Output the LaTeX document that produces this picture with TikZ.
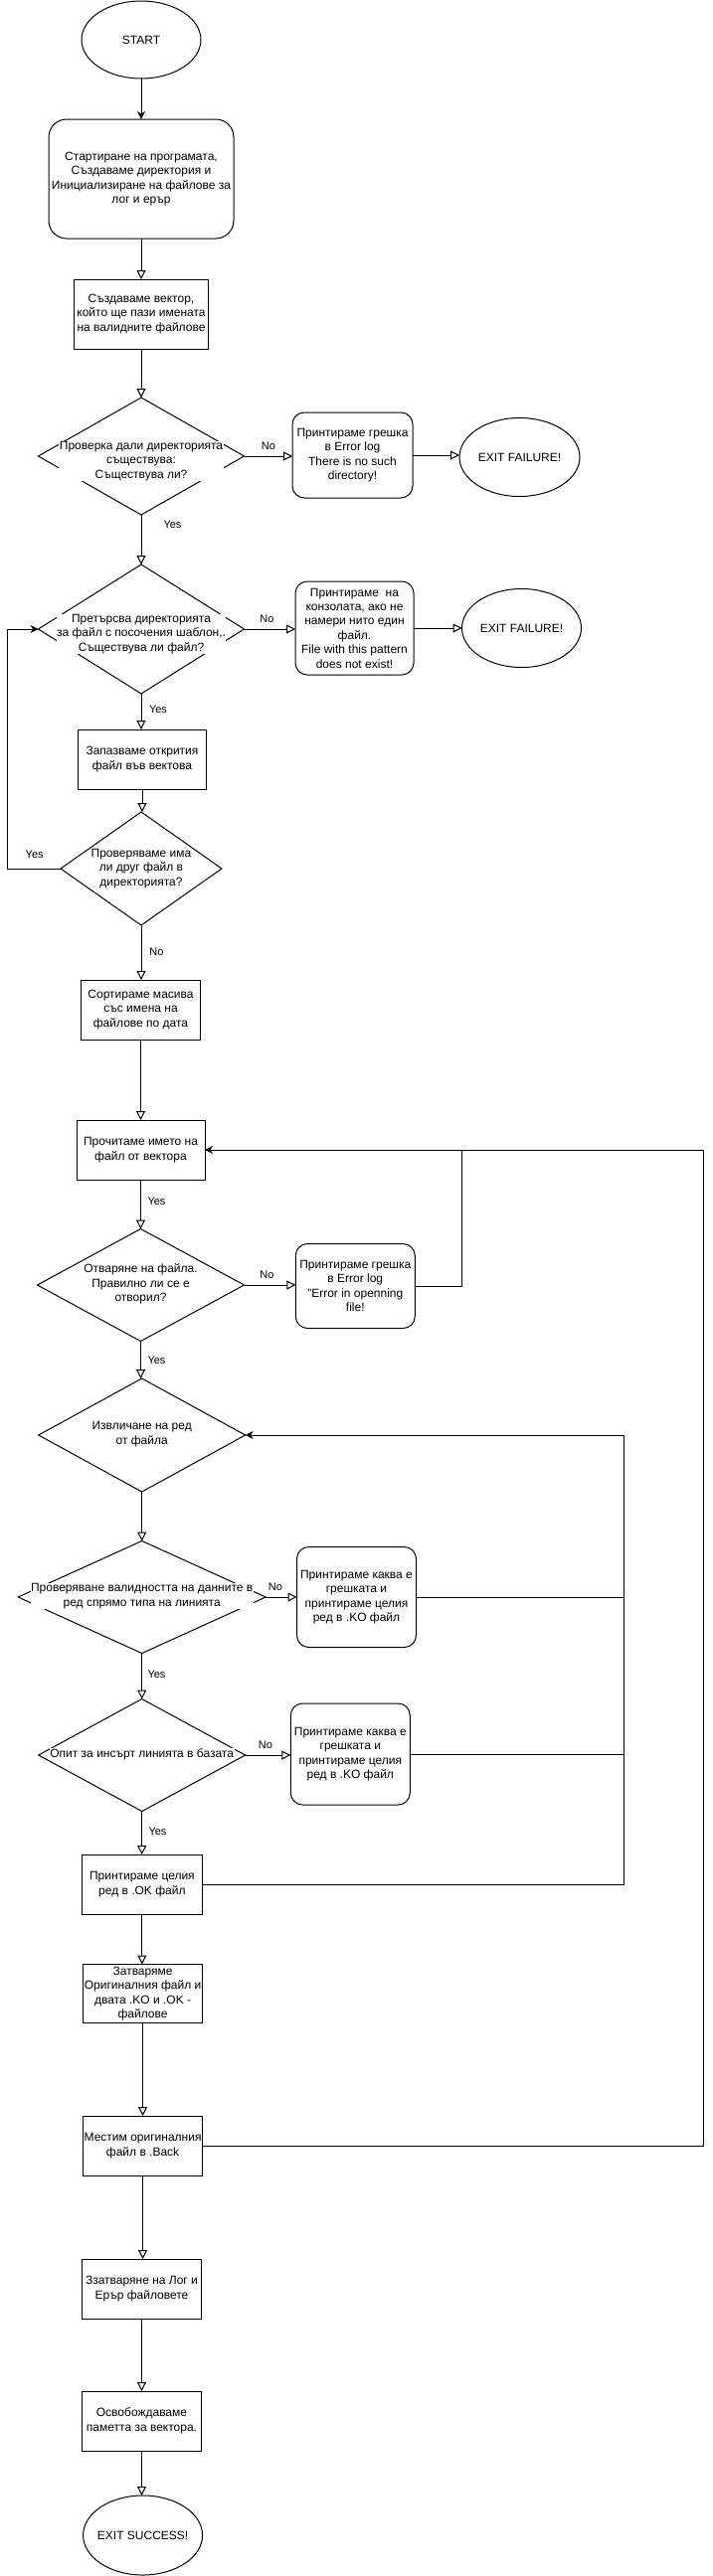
\documentclass[tikz,border=0pt]{standalone}
\usepackage{fontspec}
\setmainfont{Liberation Sans}
\usetikzlibrary{shapes.geometric, arrows.meta}
\newcommand\nfs{\fontsize{12pt}{14.4pt}\selectfont}
\newcommand\lfs{\fontsize{11pt}{13pt}\selectfont}
\tikzset{
  nodebase/.style={draw, line width=1pt, font=\nfs, align=center, inner sep=1pt, outer sep=0pt},
  boxn/.style={nodebase, rectangle},
  rbox/.style={nodebase, rectangle, rounded corners=12pt},
  ell/.style={nodebase, ellipse, inner sep=0pt},
  dia/.style={nodebase, diamond, inner sep=0pt},
  dtxt/.style={font=\nfs, align=center, fill=white, inner sep=0.5pt},
  etxt/.style={font=\nfs, align=center, inner sep=0pt},
  lbl/.style={font=\lfs, inner sep=0pt},
  oa/.style={line width=1pt, -{Triangle[open, length=9pt, width=9pt]}},
  fa/.style={line width=1pt, -{Stealth[length=8pt, width=8pt, inset=2.5pt]}},
  ln/.style={line width=1pt}
}
\begin{document}
\begin{tikzpicture}[x=1pt, y=-1pt]
\useasboundingbox (0,0) rectangle (716,2592);
% nodes
\node[ell, minimum width=120pt, minimum height=78pt] (start) at (142,40) {};
\node[etxt] (startt) at (start) {START};
\node[rbox, rounded corners=18pt, minimum width=186pt, minimum height=120pt] (b1) at (142,180)
  {Стартиране на програмата,\\Създаваме директория и\\Инициализиране на файлове за\\лог и ерър};
\node[boxn, minimum width=135pt, minimum height=70pt] (b2) at (142,316)
  {Създаваме вектор,\\който ще пази имената\\на валидните файлове};
\node[dia, minimum width=207pt, minimum height=118pt] (d1) at (142,459) {};
\node[dtxt] (d1t) at (142,464) {Проверка дали директорията\\съществува:\\Съществува ли?};
\node[rbox, minimum width=121pt, minimum height=86pt] (e1) at (354.5,458)
  {Принтираме грешка\\в Error log\\There is no such\\directory!};
\node[ell, minimum width=121pt, minimum height=79pt] (x1) at (522.5,460) {};
\node[etxt] (x1t) at (x1) {EXIT FAILURE!};
\node[dia, minimum width=207pt, minimum height=130pt] (d2) at (142,633) {};
\node[dtxt] (d2t) at (142,638) {Претърсва директорията\\за файл с посочения шаблон,.\\Съществува ли файл?};
\node[rbox, minimum width=119pt, minimum height=94pt] (e2) at (356.5,632)
  {Принтираме\ \ на\\конзолата, ако не\\намери нито един\\файл.\\File with this pattern\\does not exist!};
\node[ell, minimum width=120pt, minimum height=79pt] (x2) at (524.5,632) {};
\node[etxt] (x2t) at (x2) {EXIT FAILURE!};
\node[boxn, minimum width=129pt, minimum height=60pt] (b3) at (143,764)
  {Запазваме открития\\файл във вектова};
\node[dia, minimum width=162pt, minimum height=114pt] (d3) at (142,874) {};
\node[dtxt] (d3t) at (142,874) {Проверяваме има\\ли друг файл в\\директорията?};
\node[boxn, minimum width=120.5pt, minimum height=60pt] (b4) at (141.5,1016)
  {Сортираме масива\\със имена на\\файлове по дата};
\node[boxn, minimum width=129pt, minimum height=60pt] (b5) at (141.5,1157)
  {Прочитаме името на\\файл от вектора};
\node[dia, minimum width=208pt, minimum height=113pt] (d4) at (141.5,1293) {};
\node[dtxt] (d4t) at (141.5,1292) {Отваряне на файла.\\Правилно ли се е\\отворил?};
\node[rbox, minimum width=120pt, minimum height=85pt] (e3) at (357.3,1294)
  {Принтираме грешка\\в Error log\\"Error in openning\\file!};
\node[dia, minimum width=208pt, minimum height=114pt] (d5) at (142.7,1444) {};
\node[dtxt] (d5t) at (142.7,1443) {Извличане на ред\\от файла};
\node[dia, minimum width=249pt, minimum height=113pt] (d6) at (142.7,1607) {};
\node[dtxt] (d6t) at (142.7,1606) {Проверяване валидността на данните в\\ред спрямо типа на линията};
\node[rbox, minimum width=120pt, minimum height=101pt] (e4) at (358.5,1607)
  {Принтираме каква е\\грешката и\\принтираме целия\\ред в .KO файл};
\node[dia, minimum width=208pt, minimum height=113pt] (d7) at (142.7,1766) {};
\node[dtxt] (d7t) at (142.7,1765) {Опит за инсърт линията в базата};
\node[rbox, minimum width=120pt, minimum height=102pt] (e5) at (352.3,1765)
  {Принтираме каква е\\грешката и\\принтираме целия\\ред в .KO файл};
\node[boxn, minimum width=120.5pt, minimum height=60pt] (bok) at (142.9,1896)
  {Принтираме целия\\ред в .OK файл};
\node[boxn, minimum width=120pt, minimum height=59pt] (bcl) at (143.6,2006)
  {Затваряме\\Оригиналния файл и\\двата .KO и .OK -\\файлове};
\node[boxn, minimum width=120pt, minimum height=60pt] (bmv) at (143.6,2159)
  {Местим оригиналния\\файл в .Back};
\node[boxn, minimum width=120.5pt, minimum height=60pt] (bzz) at (142.5,2303)
  {Ззатваряне на Лог и\\Ерър файловете};
\node[boxn, minimum width=119.6pt, minimum height=60pt] (bfr) at (142.5,2436)
  {Освобождаваме\\паметта за вектора.};
\node[ell, minimum width=120pt, minimum height=80pt] (xs) at (143.6,2551) {};
\node[etxt] (xst) at (xs) {EXIT SUCCESS!};
% helper coordinates
\coordinate (lp) at (7,874);
\coordinate (j1) at (464.4,1157);
\coordinate (rr) at (707,1157);
\coordinate (ri) at (627,1444);
% connectors
\draw[fa] (start.south) -- (start.south |- b1.north);
\draw[oa] (b1.south) -- (b1.south |- b2.north);
\draw[oa] (b2.south) -- (b2.south |- d1.north);
\draw[oa] (d1.east) -- (d1.east -| e1.west);
\draw[oa] (e1.east) -- (e1.east -| x1.west);
\draw[oa] (d1.south) -- (d1.south |- d2.north);
\draw[oa] (d2.east) -- (d2.east -| e2.west);
\draw[oa] (e2.east) -- (e2.east -| x2.west);
\draw[oa] (d2.south) -- (d2.south |- b3.north);
\draw[oa] (b3.south) -- (b3.south |- d3.north);
\draw[fa] (d3.west) -- (lp) |- (d2.west);
\draw[oa] (d3.south) -- (d3.south |- b4.north);
\draw[oa] (b4.south) -- (b4.south |- b5.north);
\draw[oa] (b5.south) -- (b5.south |- d4.north);
\draw[oa] (d4.east) -- (d4.east -| e3.west);
\draw[ln] (e3.east) -| (j1);
\draw[oa] (d4.south) -- (d4.south |- d5.north);
\draw[oa] (d5.south) -- (d5.south |- d6.north);
\draw[oa] (d6.east) -- (d6.east -| e4.west);
\draw[ln] (e4.east) -- (e4.east -| ri);
\draw[oa] (d6.south) -- (d6.south |- d7.north);
\draw[oa] (d7.east) -- (d7.east -| e5.west);
\draw[ln] (e5.east) -- (e5.east -| ri);
\draw[oa] (d7.south) -- (d7.south |- bok.north);
\draw[fa] (bok.east) -| (ri) -- (d5.east);
\draw[oa] (bok.south) -- (bok.south |- bcl.north);
\draw[oa] (bcl.south) -- (bcl.south |- bmv.north);
\draw[fa] (bmv.east) -| (rr) -- (b5.east);
\draw[oa] (bmv.south) -- (bmv.south |- bzz.north);
\draw[oa] (bzz.south) -- (bzz.south |- bfr.north);
\draw[oa] (bfr.south) -- (bfr.south |- xs.north);
% labels
\node[lbl] (l1) at (270,449) {No};
\node[lbl] (l2) at (173.5,528) {Yes};
\node[lbl] (l3) at (268.5,623) {No};
\node[lbl] (l4) at (159,714) {Yes};
\node[lbl] (l5) at (34.7,860) {Yes};
\node[lbl] (l6) at (157.5,958) {No};
\node[lbl] (l7) at (157.5,1209) {Yes};
\node[lbl] (l8) at (268.5,1283) {No};
\node[lbl] (l9) at (157.5,1369) {Yes};
\node[lbl] (l10) at (277,1597) {No};
\node[lbl] (l11) at (157.5,1685) {Yes};
\node[lbl] (l12) at (267,1756) {No};
\node[lbl] (l13) at (158.5,1843) {Yes};
\end{tikzpicture}
\end{document}
